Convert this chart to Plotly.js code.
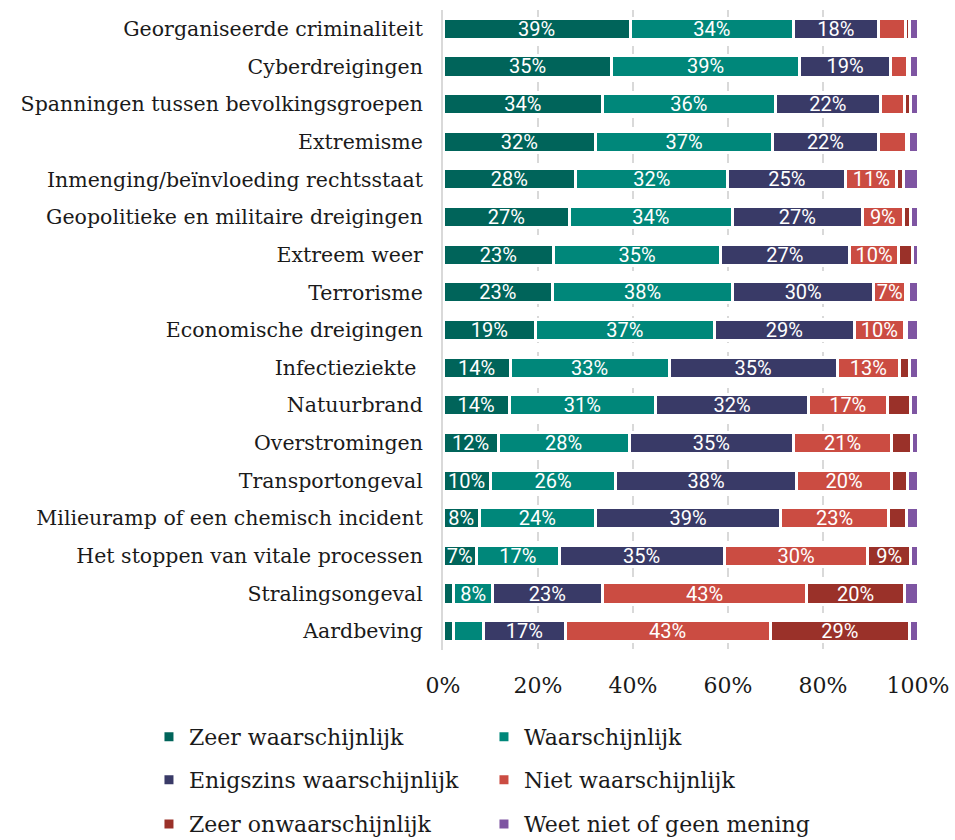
<!DOCTYPE html>
<html>
<head>
<meta charset="utf-8">
<script src="https://cdn.plot.ly/plotly-3.0.1.min.js"></script>
<style>body{margin:0;padding:0;background:#fff}#chart{width:955px;height:840px}</style>
</head>
<body>
<div id="chart"></div>
<script>
const categories = [
  "Georganiseerde criminaliteit",
  "Cyberdreigingen",
  "Spanningen tussen bevolkingsgroepen",
  "Extremisme",
  "Inmenging/beïnvloeding rechtsstaat",
  "Geopolitieke en militaire dreigingen",
  "Extreem weer",
  "Terrorisme",
  "Economische dreigingen",
  "Infectieziekte ",
  "Natuurbrand",
  "Overstromingen",
  "Transportongeval",
  "Milieuramp of een chemisch incident",
  "Het stoppen van vitale processen",
  "Stralingsongeval",
  "Aardbeving"
];
const seriesNames = ["Zeer waarschijnlijk","Waarschijnlijk","Enigszins waarschijnlijk","Niet waarschijnlijk","Zeer onwaarschijnlijk","Weet niet of geen mening"];
const zeerWaarschijnlijk   = [39.4,35.4,33.5,31.9,27.8,26.6,23.2,22.9,19.4,14.1,13.9,11.6, 9.9, 7.6, 7.0, 2.3, 2.3];
const waarschijnlijk       = [34.4,39.2,36.2,37.0,31.8,34.2,34.8,37.6,37.4,33.4,30.9,27.6,26.3,24.4,17.3, 8.1, 6.2];
const enigszins            = [17.8,19.2,22.1,22.1,24.7,27.4,27.1,29.6,29.4,35.3,32.1,34.7,37.8,38.8,34.6,23.0,17.1];
const nietWaarschijnlijk   = [ 5.7, 3.6, 5.0, 5.9,10.7, 8.6,10.2, 6.6,10.4,13.1,16.6,20.6,20.0,22.6,30.1,43.0,43.0];
const zeerOnwaarschijnlijk = [ 1.0, 0.4, 1.4, 0.4, 1.3, 1.6, 2.9, 0.7, 0.5, 2.2, 5.0, 4.3, 3.4, 3.8, 8.9,20.4,29.2];
const weetNiet             = [ 1.7, 1.7, 1.5, 2.0, 3.1, 1.5, 1.2, 1.9, 2.4, 1.7, 1.5, 1.3, 2.1, 2.4, 1.6, 2.9, 1.8];
const xTickVals = [0,20,40,60,80,100];
const xTickText = ["0%","20%","40%","60%","80%","100%"];

const colors = ["#00645a","#00877a","#393a67","#cb4c42","#9a3129","#7e55a2"];
const allValues = [zeerWaarschijnlijk,waarschijnlijk,enigszins,nietWaarschijnlijk,zeerOnwaarschijnlijk,weetNiet];
const legendIds = ['legend','legend','legend2','legend2','legend3','legend3'];

const traces = allValues.map((vals,i)=>({
  type:'bar',
  orientation:'h',
  name: seriesNames[i],
  legend: legendIds[i],
  y: categories,
  x: vals,
  text: vals.map(v => v >= 6.5 ? Math.round(v) + '%' : ''),
  textposition:'inside',
  insidetextanchor:'middle',
  textangle:0,
  constraintext:'none',
  textfont:{family:'Roboto, sans-serif', size:20, color:'#ffffff'},
  marker:{color:colors[i], line:{color:'#ffffff', width:3}},
  hoverinfo:'skip'
}));

const legendBase = {
  orientation:'h',
  x:-0.619, xanchor:'left',
  yanchor:'middle',
  traceorder:'normal',
  entrywidth:290,
  font:{family:'DejaVu Serif, serif', size:22, color:'#1a1a1a'},
  itemwidth:30,
  bgcolor:'rgba(0,0,0,0)'
};

const layout = {
  width:955, height:840,
  barmode:'stack',
  barnorm:'percent',
  bargap:0.44,
  margin:{l:443, r:37, t:10, b:190, autoexpand:false},
  paper_bgcolor:'#ffffff',
  plot_bgcolor:'#ffffff',
  font:{family:'DejaVu Serif, serif', color:'#1a1a1a'},
  xaxis:{
    range:[0,100],
    tickvals:xTickVals, ticktext:xTickText,
    showgrid:true, gridcolor:'#d9d9d9', gridwidth:2, griddash:'dash',
    zeroline:false,
    showline:false,
    tickfont:{family:'DejaVu Serif, serif', size:22, color:'#1a1a1a'},
    ticklabelstandoff:20,
    fixedrange:true
  },
  yaxis:{
    type:'category',
    categoryorder:'array', categoryarray:categories,
    autorange:'reversed',
    showgrid:false, zeroline:false,
    showline:true, linecolor:'#d9d9d9', linewidth:2,
    tickfont:{family:'DejaVu Serif, serif', size:20.5, color:'#1a1a1a'},
    ticklabelstandoff:14,
    fixedrange:true
  },
  showlegend:true,
  legend: Object.assign({}, legendBase, {y:-0.136}),
  legend2: Object.assign({}, legendBase, {y:-0.203}),
  legend3: Object.assign({}, legendBase, {y:-0.272})
};
Plotly.newPlot('chart', traces, layout, {displayModeBar:false, staticPlot:true});
</script>
</body>
</html>
